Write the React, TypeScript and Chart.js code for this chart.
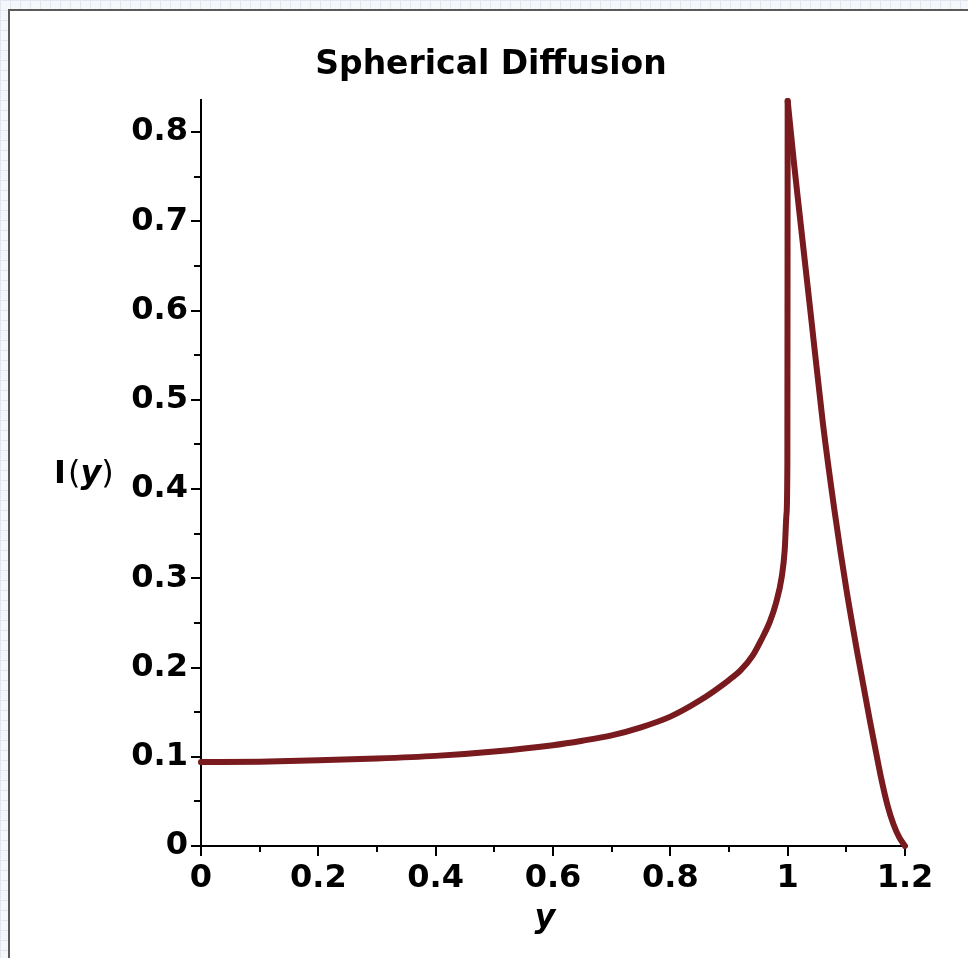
import { useEffect, useRef } from "react";
import { Chart, registerables } from "chart.js";

Chart.register(...registerables);

// ---- data ----
// branch inside the sphere (y <= 1)
const innerPositions = [
  0, 0.1, 0.2, 0.3, 0.4, 0.5, 0.6, 0.65, 0.7, 0.75, 0.8, 0.85, 0.9, 0.92, 0.94, 0.955, 0.97, 0.98,
  0.99, 0.995, 0.998, 0.9995, 1.0,
];
const innerIntensity = [
  0.094, 0.0945, 0.096, 0.098, 0.101, 0.106, 0.113, 0.118, 0.124, 0.133, 0.145, 0.163, 0.186,
  0.197, 0.213, 0.231, 0.252, 0.272, 0.302, 0.332, 0.372, 0.43, 0.835,
];
// branch outside the sphere (y >= 1)
const outerPositions = [
  1.0, 1.01, 1.02, 1.04, 1.06, 1.08, 1.1, 1.12, 1.14, 1.15, 1.16, 1.17, 1.18, 1.19, 1.2,
];
const outerIntensity = [
  0.835, 0.77, 0.71, 0.592, 0.474, 0.375, 0.288, 0.212, 0.141, 0.107, 0.074, 0.046, 0.025, 0.01, 0,
];
const xTickValues = [0, 0.2, 0.4, 0.6, 0.8, 1.0, 1.2];
const xMinorTickValues = [0.1, 0.3, 0.5, 0.7, 0.9, 1.1];
const yTickValues = [0, 0.1, 0.2, 0.3, 0.4, 0.5, 0.6, 0.7, 0.8];
const yMinorTickValues = [0.05, 0.15, 0.25, 0.35, 0.45, 0.55, 0.65, 0.75];
const chartTitle = "Spherical Diffusion";
const xAxisTitle = "y";
const yAxisTitleParts = [
  { text: "I", weight: "bold", style: "normal" },
  { text: "(", weight: "normal", style: "normal" },
  { text: "y", weight: "bold", style: "italic" },
  { text: ")", weight: "normal", style: "normal" },
];

const FONT = "'DejaVu Sans', sans-serif";
const LINE_COLOR = "#781a1e";

const fmt = (v: number) => String(Number(v.toFixed(2)));

const extrasPlugin = {
  id: "extras",
  afterDraw(chart: any) {
    const ctx = chart.ctx;
    const xs = chart.scales.x;
    const ys = chart.scales.y;
    const area = chart.chartArea;
    ctx.save();
    ctx.strokeStyle = "#000";
    ctx.lineWidth = 2;
    ctx.beginPath();
    xMinorTickValues.forEach((v) => {
      const px = Math.round(xs.getPixelForValue(v));
      ctx.moveTo(px, area.bottom);
      ctx.lineTo(px, area.bottom + 6);
    });
    yMinorTickValues.forEach((v) => {
      const py = Math.round(ys.getPixelForValue(v));
      ctx.moveTo(area.left, py);
      ctx.lineTo(area.left - 7, py);
    });
    ctx.stroke();

    // y-axis title (horizontal, mixed styles)
    ctx.fillStyle = "#000";
    ctx.textBaseline = "alphabetic";
    ctx.textAlign = "left";
    let x = area.left - 147;
    const baseY = (area.top + area.bottom) / 2 + 10;
    yAxisTitleParts.forEach((p) => {
      ctx.font = `${p.style} ${p.weight} 32px ${FONT}`;
      ctx.fillText(p.text, x, baseY);
      x += ctx.measureText(p.text).width + (p.text === "I" ? 2 : 0);
    });

    // x-axis title
    ctx.font = `italic bold 32px ${FONT}`;
    ctx.textAlign = "center";
    ctx.fillText(xAxisTitle, (area.left + area.right) / 2 - 8, area.bottom + 81);
    ctx.restore();
  },
};

const lineStyle = {
  borderColor: LINE_COLOR,
  borderWidth: 6,
  borderCapStyle: "round" as const,
  borderJoinStyle: "round" as const,
  pointRadius: 0,
  cubicInterpolationMode: "monotone" as const,
  fill: false,
  clip: false as any,
};

export default function App() {
  const canvasRef = useRef<HTMLCanvasElement | null>(null);

  useEffect(() => {
    if (!canvasRef.current) return;
    const inner = innerPositions.map((p, i) => ({ x: p, y: innerIntensity[i] }));
    const outer = outerPositions.map((p, i) => ({ x: p, y: outerIntensity[i] }));
    const chart = new Chart(canvasRef.current, {
      type: "line",
      data: {
        datasets: [
          { data: inner, ...lineStyle },
          { data: outer, ...lineStyle },
        ],
      },
      options: {
        animation: false,
        responsive: false,
        events: [],
        layout: { padding: { left: 77, right: 63, top: 0, bottom: 0 } },
        plugins: {
          legend: { display: false },
          tooltip: { enabled: false },
          title: {
            display: true,
            text: chartTitle,
            color: "#000",
            font: { family: FONT, size: 33, weight: "bold" },
            padding: { top: 46, bottom: 14.4 },
          },
        },
        scales: {
          x: {
            type: "linear",
            min: 0,
            max: 1.2,
            afterFit: (s: any) => {
              s.height = 112;
            },
            afterBuildTicks: (s: any) => {
              s.ticks = xTickValues.map((v) => ({ value: v }));
            },
            ticks: {
              color: "#000",
              font: { family: FONT, size: 32, weight: "bold" },
              padding: 3,
              maxRotation: 0,
              autoSkip: false,
              callback: (v: any) => fmt(Number(v)),
            },
            grid: {
              display: true,
              drawOnChartArea: false,
              drawTicks: true,
              tickLength: 10,
              color: "#000",
              lineWidth: 2,
            },
            border: { display: true, color: "#000", width: 2 },
          },
          y: {
            type: "linear",
            min: 0,
            max: 0.836,
            afterFit: (s: any) => {
              s.width = 124;
            },
            afterBuildTicks: (s: any) => {
              s.ticks = yTickValues.map((v) => ({ value: v }));
            },
            ticks: {
              color: "#000",
              font: { family: FONT, size: 32, weight: "bold" },
              padding: 3,
              autoSkip: false,
              callback: (v: any) => fmt(Number(v)),
            },
            grid: {
              display: true,
              drawOnChartArea: false,
              drawTicks: true,
              tickLength: 10,
              color: "#000",
              lineWidth: 2,
            },
            border: { display: true, color: "#000", width: 2 },
          },
        },
      },
      plugins: [extrasPlugin],
    });
    return () => chart.destroy();
  }, []);

  return (
    <div
      style={{
        position: "fixed",
        left: 0,
        top: 0,
        width: 968,
        height: 958,
        overflow: "hidden",
        backgroundColor: "#f6f7fb",
        backgroundImage:
          "linear-gradient(to right, #e2e6f1 1px, transparent 1px), linear-gradient(to bottom, #e2e6f1 1px, transparent 1px)",
        backgroundSize: "10px 10px",
      }}
    >
      <div
        style={{
          position: "absolute",
          left: 8,
          top: 9,
          width: 1100,
          height: 1100,
          background: "#fff",
          borderTop: "2px solid #5a5a5a",
          borderLeft: "2px solid #5a5a5a",
        }}
      />
      <canvas
        ref={canvasRef}
        width={968}
        height={958}
        style={{ position: "absolute", left: 0, top: 0, width: 968, height: 958 }}
      />
    </div>
  );
}
